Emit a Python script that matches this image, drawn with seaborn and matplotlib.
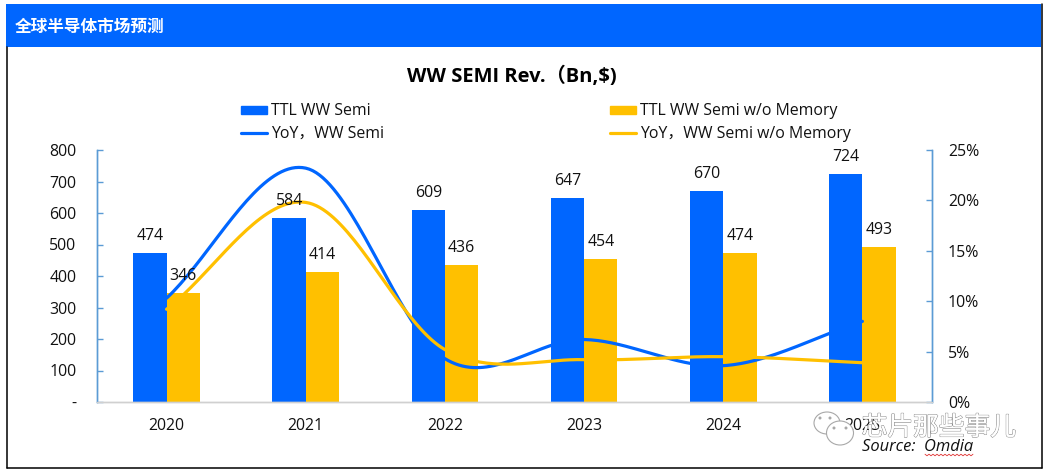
import numpy as np
import pandas as pd
import seaborn as sns
import matplotlib
matplotlib.use("Agg")
import matplotlib.pyplot as plt
import matplotlib.patheffects as pe
from matplotlib.patches import Rectangle, Ellipse, Patch
from matplotlib.lines import Line2D

years = ["2020", "2021", "2022", "2023", "2024", "2025"]
ttl_semi = [474, 584, 609, 647, 670, 724]
semi_wo_memory = [346, 414, 436, 454, 474, 493]
yoy_semi = [0.103, 0.232, 0.043, 0.062, 0.036, 0.080]
yoy_wo_memory = [0.092, 0.198, 0.052, 0.042, 0.045, 0.039]
left_ticks = [0, 100, 200, 300, 400, 500, 600, 700, 800]
left_labels = ["-", "100", "200", "300", "400", "500", "600", "700", "800"]
right_ticks = [0, 0.05, 0.10, 0.15, 0.20, 0.25]
right_labels = ["0%", "5%", "10%", "15%", "20%", "25%"]
name_a = "TTL WW Semi"
name_b = "TTL WW Semi w/o Memory"
name_c = "YoY，WW Semi"
name_d = "YoY，WW Semi w/o Memory"

BLUE = "#0066FF"
GOLD = "#FFC000"
AXIS = "#5B9BD5"
W, H = 1050, 475
FS = 11.4

sns.set_theme(style="white")
FONT = ["Open Sans", "Noto Sans CJK SC", "DejaVu Sans"]
plt.rcParams["font.family"] = FONT


def fx(px):
    return px / W


def fy(py):
    return 1 - py / H


def smooth_curve(values, n=40):
    """Spreadsheet-style 'smoothed line' rendering through the given values."""
    v = np.asarray(values, dtype=float)
    m = np.zeros_like(v)
    m[1:-1] = (v[2:] - v[:-2]) / 2
    m[0] = v[1] - v[0]
    m[-1] = v[-1] - v[-2]
    xs, ys = [], []
    for i in range(len(v) - 1):
        t = np.linspace(0, 1, n, endpoint=False)
        y = ((2*t**3 - 3*t**2 + 1) * v[i] + (t**3 - 2*t**2 + t) * m[i]
             + (-2*t**3 + 3*t**2) * v[i+1] + (t**3 - t**2) * m[i+1])
        xs.append(i + t)
        ys.append(y)
    xs.append([len(v) - 1])
    ys.append([v[-1]])
    return np.concatenate(xs), np.concatenate(ys)


fig = plt.figure(figsize=(W / 100, H / 100), dpi=100, facecolor="white")
ax = fig.add_axes([fx(97), fy(402), fx(932) - fx(97), (402 - 150) / H])

df = pd.DataFrame({
    "year": years * 2,
    "value": ttl_semi + semi_wo_memory,
    "series": [name_a] * 6 + [name_b] * 6,
})
sns.barplot(data=df, x="year", y="value", hue="series", ax=ax,
            palette=[BLUE, GOLD], width=0.478, gap=0, saturation=1,
            legend=False, linewidth=0, edgecolor="none")
ax.set_xlim(-0.5, 5.5)
ax.set_ylim(0, 800)
ax.set_xlabel("")
ax.set_ylabel("")
ax.set_yticks(left_ticks)
ax.set_yticklabels(left_labels)
ax.tick_params(axis="y", direction="in", length=4.5, width=1, color=AXIS,
               labelsize=FS, pad=15, left=True, labelcolor="#111111")
ax.tick_params(axis="x", length=0, labelsize=FS, pad=11.5, labelcolor="#111111")

ax2 = ax.twinx()
ax2.set_position(ax.get_position())
x_c, y_c = smooth_curve(yoy_semi)
x_d, y_d = smooth_curve(yoy_wo_memory)
sns.lineplot(x=x_c, y=y_c, ax=ax2, color=BLUE, linewidth=2.3, estimator=None,
             sort=False, legend=False)
sns.lineplot(x=x_d, y=y_d, ax=ax2, color=GOLD, linewidth=2.3, estimator=None,
             sort=False, legend=False)
ax2.set_ylim(0, 0.25)
ax2.set_xlim(-0.5, 5.5)
ax2.set_ylabel("")
ax2.set_yticks(right_ticks)
ax2.set_yticklabels(right_labels)
ax2.tick_params(axis="y", direction="in", length=4.5, width=1, color=AXIS,
                labelsize=FS, pad=11.5, right=True, labelcolor="#111111")
ax2.grid(False)
ax.grid(False)

for a in (ax, ax2):
    a.spines["top"].set_visible(False)
    a.spines["left"].set_color(AXIS)
    a.spines["right"].set_color(AXIS)
    a.spines["bottom"].set_color("#D0D0D0")
    for s in a.spines.values():
        s.set_linewidth(1)

# data labels sit above the lines, so they live on the top axes
for container in ax.containers:
    for bar in container:
        ax2.annotate(f"{bar.get_height():.0f}",
                     xy=(bar.get_x() + bar.get_width() / 2, bar.get_height()),
                     xycoords=ax.transData, xytext=(0, 6.4),
                     textcoords="offset points", ha="center", va="bottom",
                     fontsize=FS, color="#111111", zorder=10)

handles = [
    Patch(color=BLUE, label=name_a),
    Line2D([], [], color=BLUE, lw=2.3, label=name_c),
    Patch(color=GOLD, label=name_b),
    Line2D([], [], color=GOLD, lw=2.3, label=name_d),
]
fig.legend(handles=handles, ncol=2, frameon=False, fontsize=FS,
           loc="center", bbox_to_anchor=(fx(546), fy(122.5)),
           handlelength=1.65, handleheight=0.45, handletextpad=0.25,
           columnspacing=14.3, labelspacing=0.38, labelcolor="#111111")

fig.text(fx(512), fy(76.5), "WW SEMI Rev.（Bn,$)", ha="center", va="center",
         fontsize=14.5, fontweight="bold", color="black")

# card header and frame
fig.add_artist(Rectangle((fx(6), fy(47)), fx(1041) - fx(6), (47 - 4) / H,
                         transform=fig.transFigure, color=BLUE, lw=0, zorder=3))
fig.text(fx(15), fy(27), "全球半导体市场预测", ha="left", va="center", fontsize=12,
         fontweight="bold", color="white", zorder=4,
         family=["Noto Sans CJK SC", "DejaVu Sans"])
for (x0, y0, x1, y1) in [(6.5, 47, 6.5, 468), (6.5, 468, 1041.5, 468), (1041.5, 4, 1041.5, 468)]:
    fig.add_artist(Line2D([fx(x0), fx(x1)], [fy(y0), fy(y1)], color="black", lw=1.1,
                          transform=fig.transFigure, zorder=3))

# source note
fig.text(fx(862), fy(447), "Source:  Omdia", ha="left", va="center", fontsize=11.9,
         fontstyle="italic", color="#111111", zorder=6)
sq_x = np.arange(925, 974, 2)
sq_y = 455 + np.where(np.arange(len(sq_x)) % 2 == 0, -0.8, 0.8)
fig.add_artist(Line2D(fx(sq_x), fy(sq_y), color="#E03030", lw=0.6,
                      transform=fig.transFigure, zorder=6))

# watermark
fig.text(fx(939), fy(428), "芯片那些事儿", ha="center", va="center", fontsize=18.5,
         color="white", zorder=7, family=["Noto Sans CJK SC", "DejaVu Sans"],
         path_effects=[pe.withStroke(linewidth=0.9, foreground="#8A8A8A"),
                       pe.Normal()])
for (cx, cy, ew, eh) in [(827, 423, 26, 22), (840, 433, 27, 24)]:
    fig.add_artist(Ellipse((fx(cx), fy(cy)), ew / W, eh / H, transform=fig.transFigure,
                           fc="white" if cx > 830 else "none", ec="#A8A8A8", lw=0.8,
                           zorder=6.5))
for (dx, dy) in [(820, 418), (830, 418), (834, 428), (846, 428)]:
    fig.add_artist(Ellipse((fx(dx), fy(dy)), 3 / W, 3 / H, transform=fig.transFigure,
                           fc="#A8A8A8", ec="none", zorder=6.6))

fig.savefig("out.png", dpi=100, facecolor="white")
